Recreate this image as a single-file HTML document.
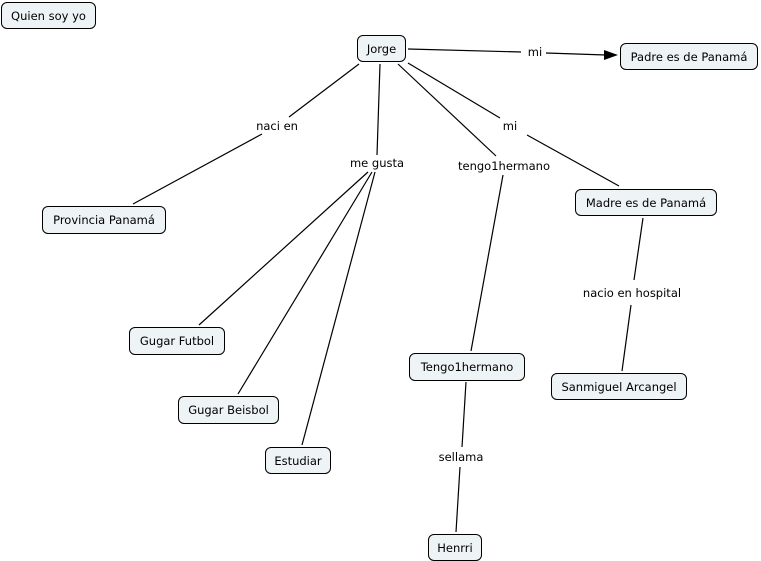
<!DOCTYPE html>
<html><head><meta charset="utf-8"><style>
body{margin:0;width:761px;height:561px;background:#fff;position:relative;overflow:hidden;font-family:"DejaVu Sans","Liberation Sans",sans-serif;font-size:11.5px;color:#000}
.n{position:absolute;box-sizing:border-box;border:1px solid #000;border-radius:6px;background:#eef3f5;display:flex;align-items:center;justify-content:center;white-space:nowrap}
.l{position:absolute;transform:translate(-50%,-50%);white-space:nowrap;background:#fff;padding:0 1px}
svg{position:absolute;left:0;top:0}
</style></head><body>
<svg width="761" height="561"><g stroke="#000" stroke-width="1.2" fill="none">
<line x1="359" y1="64" x2="289" y2="117"/><line x1="262" y1="134" x2="133" y2="204"/>
<line x1="380" y1="64" x2="377" y2="155"/>
<line x1="368" y1="172" x2="199" y2="325"/><line x1="372" y1="172" x2="238" y2="394"/><line x1="375" y1="172" x2="302" y2="445"/>
<line x1="398" y1="64" x2="496" y2="156"/><line x1="503" y1="175" x2="471" y2="351"/>
<line x1="408" y1="63" x2="500" y2="118"/><line x1="527" y1="135" x2="619" y2="186"/>
<line x1="408" y1="49" x2="521" y2="52"/><line x1="546" y1="53" x2="606" y2="55"/>
<line x1="643" y1="218" x2="634" y2="280"/><line x1="631" y1="305" x2="622" y2="371"/>
<line x1="466" y1="382" x2="462" y2="447"/><line x1="460" y1="467" x2="456" y2="532"/>
</g><polygon points="604,50 618,55 604,60" fill="#000"/></svg>
<div class="n" style="left:1px;top:2px;width:95px;height:27px">Quien soy yo</div>
<div class="n" style="left:357px;top:35px;width:49px;height:27px">Jorge</div>
<div class="n" style="left:620px;top:43px;width:138px;height:27px">Padre es de Panamá</div>
<div class="n" style="left:42px;top:206px;width:124px;height:28px">Provincia Panamá</div>
<div class="n" style="left:575px;top:189px;width:142px;height:27px">Madre es de Panamá</div>
<div class="n" style="left:129px;top:327px;width:96px;height:28px">Gugar Futbol</div>
<div class="n" style="left:178px;top:396px;width:101px;height:28px">Gugar Beisbol</div>
<div class="n" style="left:265px;top:447px;width:66px;height:27px">Estudiar</div>
<div class="n" style="left:409px;top:353px;width:116px;height:28px">Tengo1hermano</div>
<div class="n" style="left:551px;top:373px;width:136px;height:27px">Sanmiguel Arcangel</div>
<div class="n" style="left:428px;top:534px;width:54px;height:27px">Henrri</div>
<div class="l" style="left:277px;top:126px">naci en</div>
<div class="l" style="left:377px;top:163px">me gusta</div>
<div class="l" style="left:504px;top:166px">tengo1hermano</div>
<div class="l" style="left:510px;top:126px">mi</div>
<div class="l" style="left:535px;top:52px">mi</div>
<div class="l" style="left:632px;top:293px">nacio en hospital</div>
<div class="l" style="left:461px;top:457px">sellama</div>
</body></html>
